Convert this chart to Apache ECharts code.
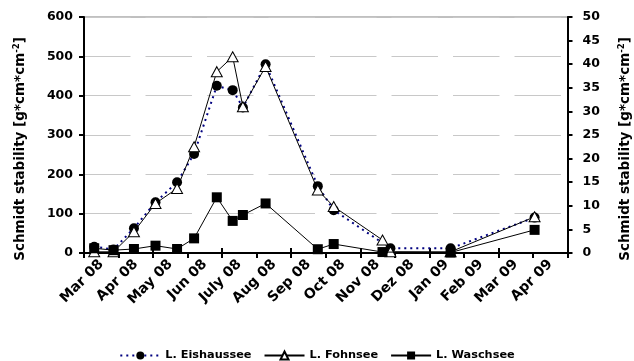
<!DOCTYPE html>
<html><head><meta charset="utf-8">
<script src="https://cdn.jsdelivr.net/npm/echarts@6/dist/echarts.min.js"></script>
<style>html,body{margin:0;padding:0;background:#fff}#c{width:634px;height:361px}</style>
</head><body><div id="c"></div>
<script>
const monthLabels = ['Mar 08','Apr 08','May 08','Jun 08','July 08','Aug 08','Sep 08','Oct 08','Nov 08','Dez 08','Jan 09','Feb 09','Mar 09','Apr 09'];

const eisDates  = ['2008-03-10','2008-03-27','2008-04-14','2008-05-03','2008-05-22','2008-06-06','2008-06-26','2008-07-10','2008-07-19','2008-08-08','2008-09-23','2008-10-07','2008-11-26','2009-01-18','2009-04-02'];
const eisValues = [16, 9, 63, 129, 180, 252, 425, 414, 370, 480, 170, 109, 12, 12, 90];

const fohnDates  = ['2008-03-10','2008-03-27','2008-04-14','2008-05-03','2008-05-22','2008-06-06','2008-06-26','2008-07-10','2008-07-19','2008-08-08','2008-09-23','2008-10-07','2008-11-19','2008-11-26','2009-01-18','2009-04-02'];
const fohnValues = [3, 3, 54, 126, 164, 270, 461, 499, 372, 474, 160, 118, 33, 3, 3, 92];

const waschDates  = ['2008-03-10','2008-03-27','2008-04-14','2008-05-03','2008-05-22','2008-06-06','2008-06-26','2008-07-10','2008-07-19','2008-08-08','2008-09-23','2008-10-07','2008-11-19','2009-01-18','2009-04-02'];
const waschValues = [1.0, 0.6, 0.85, 1.55, 0.85, 3.1, 11.8, 6.8, 8.05, 10.5, 0.8, 1.9, 0.2, 0.1, 4.9];

const leftAxis = {min: 0, max: 600, interval: 100};
const rightAxis = {min: 0, max: 50, interval: 5};
const axisTitle = '{a|Schmidt stability [g*cm*cm}{s|-2}{a|]}';

const FONT = 'DejaVu Sans';
const pairs = (d, v) => d.map((x, i) => [x, v[i]]);
const nameRich = {
  a: {fontFamily: FONT, fontWeight: 'bold', fontSize: 13.5, color: '#000', lineHeight: 16},
  s: {fontFamily: FONT, fontWeight: 'bold', fontSize: 8.5, color: '#000', verticalAlign: 'top', lineHeight: 16, padding: [0, 0, 7, 0]}
};

const chart = echarts.init(document.getElementById('c'), null, {renderer: 'canvas'});
chart.setOption({
  animation: false,
  backgroundColor: '#fff',
  grid: {left: 84, right: 66.5, top: 17, bottom: 108, containLabel: false, outerBoundsMode: 'none',
         show: true, borderColor: '#808080', borderWidth: 1, backgroundColor: 'transparent'},
  xAxis: [
    {type: 'time', min: '2008-03-01', max: '2009-05-01', show: false},
    {type: 'category', data: monthLabels, boundaryGap: true, position: 'bottom',
     axisLine: {show: true, lineStyle: {color: '#000', width: 2}},
     axisTick: {show: true, length: 5, inside: false, alignWithLabel: false, lineStyle: {color: '#000', width: 2}},
     axisLabel: {rotate: 45, margin: 9, interval: 0, fontFamily: FONT, fontWeight: 'bold', fontSize: 14, color: '#000'},
     splitLine: {show: false}},
    {type: 'category', data: monthLabels, boundaryGap: true, position: 'bottom',
     axisLine: {show: false},
     axisTick: {show: true, length: 5, inside: true, lineStyle: {color: '#000', width: 2}},
     axisLabel: {show: false}, splitLine: {show: false}}
  ],
  yAxis: [
    {type: 'value', position: 'left', min: leftAxis.min, max: leftAxis.max, interval: leftAxis.interval,
     name: axisTitle, nameLocation: 'middle', nameRotate: 90, nameGap: 56,
     nameTextStyle: {rich: nameRich, padding: [0, 28, 0, 0]},
     axisLine: {show: true, lineStyle: {color: '#000', width: 2}},
     axisTick: {show: true, length: 5, lineStyle: {color: '#000', width: 2}},
     axisLabel: {margin: 11, fontFamily: FONT, fontWeight: 'bold', fontSize: 12.5, color: '#000'},
     splitLine: {show: true, lineStyle: {color: '#c8c8c8', width: 1, type: [46.5, 15]}}},
    {type: 'value', position: 'right', min: rightAxis.min, max: rightAxis.max, interval: rightAxis.interval,
     name: axisTitle, nameLocation: 'middle', nameRotate: 90, nameGap: 50,
     nameTextStyle: {rich: nameRich, padding: [0, 28, 0, 0]},
     axisLine: {show: true, lineStyle: {color: '#000', width: 2}},
     axisTick: {show: true, length: 5, lineStyle: {color: '#000', width: 2}},
     axisLabel: {margin: 15, fontFamily: FONT, fontWeight: 'bold', fontSize: 12.5, color: '#000'},
     splitLine: {show: false}}
  ],
  legend: {
    left: 'center', top: 345, itemWidth: 40, itemHeight: 10, itemGap: 12,
    textStyle: {fontFamily: FONT, fontWeight: 'bold', fontSize: 11.3, color: '#000'},
    data: ['L. Eishaussee', 'L. Fohnsee', 'L. Waschsee']
  },
  series: [
    {name: 'L. Eishaussee', type: 'line', xAxisIndex: 0, yAxisIndex: 0, data: pairs(eisDates, eisValues),
     symbol: 'circle', symbolSize: 10, clip: false,
     itemStyle: {color: '#000', borderColor: '#000', borderWidth: 0},
     lineStyle: {color: '#000080', width: 2, type: [2, 4]}, z: 2},
    {name: 'L. Fohnsee', type: 'line', xAxisIndex: 0, yAxisIndex: 0, data: pairs(fohnDates, fohnValues),
     symbol: 'triangle', symbolSize: [11, 10], clip: false,
     itemStyle: {color: '#fff', borderColor: '#000', borderWidth: 1},
     lineStyle: {color: '#000', width: 1}, z: 3},
    {name: 'L. Waschsee', type: 'line', xAxisIndex: 0, yAxisIndex: 1, data: pairs(waschDates, waschValues),
     symbol: 'rect', symbolSize: 10, clip: false,
     itemStyle: {color: '#000', borderColor: '#000', borderWidth: 0},
     lineStyle: {color: '#000', width: 1}, z: 4}
  ]
});
</script></body></html>
